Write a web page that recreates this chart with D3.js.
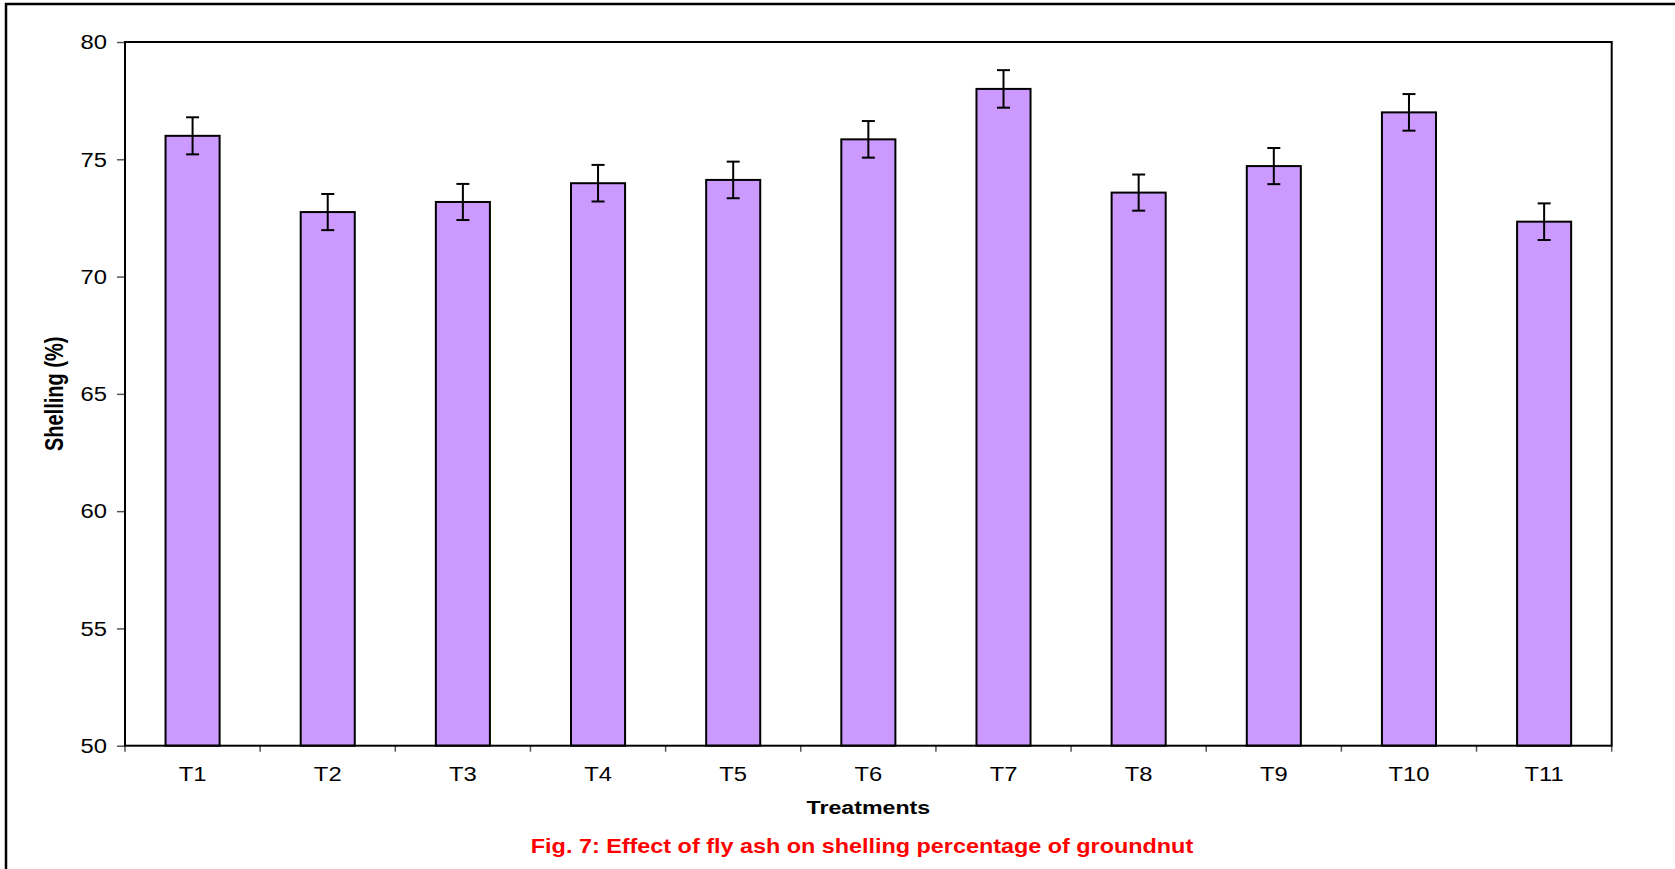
<!DOCTYPE html>
<html>
<head>
<meta charset="utf-8">
<script src="https://cdn.jsdelivr.net/npm/d3@7/dist/d3.min.js"></script>
<style>
  html, body { margin: 0; padding: 0; background: #fff; }
  svg { display: block; }
  text { font-family: "Liberation Sans", Arial, sans-serif; fill: #000; }
</style>
</head>
<body>
<svg id="chart" width="1675" height="869"></svg>
<script>
const categories = ["T1","T2","T3","T4","T5","T6","T7","T8","T9","T10","T11"];
const shelling   = [76.0, 72.75, 73.18, 73.98, 74.12, 75.85, 78.0, 73.58, 74.71, 77.0, 72.34];
const errors     = [0.79, 0.77, 0.77, 0.78, 0.78, 0.78, 0.8, 0.77, 0.77, 0.78, 0.78];
const yTicks     = [50, 55, 60, 65, 70, 75, 80];
const yDomain    = [50, 80];
const xTitle = "Treatments";
const yTitle = "Shelling (%)";
const caption = "Fig. 7: Effect of fly ash on shelling percentage of groundnut";

const W = 1675, H = 869;
const plot = { left: 125, right: 1611.7, top: 42, bottom: 745.7 };
const stretch = 1.22;
const fs = 19.5;

const svg = d3.select("#chart");

// outer frame (only top and left visible)
svg.append("rect")
  .attr("x", 6).attr("y", 4).attr("width", W + 50).attr("height", H + 50)
  .attr("fill", "none").attr("stroke", "#000").attr("stroke-width", 2.5);

const x = d3.scaleBand().domain(categories)
  .range([plot.left, plot.right]).paddingInner(0.6).paddingOuter(0.3);
const y = d3.scaleLinear().domain(yDomain).range([plot.bottom, plot.top]);

// y axis
const yAxis = svg.append("g")
  .attr("transform", `translate(${plot.left},0)`)
  .call(d3.axisLeft(y).tickValues(yTicks).tickSize(8).tickPadding(10).tickFormat(d3.format("d")));
yAxis.select(".domain").remove();
yAxis.selectAll(".tick line").attr("stroke", "#555").attr("stroke-width", 1.5);
yAxis.selectAll(".tick text").each(function() {
  const t = d3.select(this);
  const xx = +t.attr("x");
  t.attr("x", null).attr("dy", null)
   .attr("dominant-baseline", "central")
   .attr("transform", `translate(${xx},0) scale(${stretch},1)`)
   .style("font-size", fs + "px").style("font-family", '"Liberation Sans", Arial, sans-serif');
});

// x ticks at category boundaries
const step = x.step();
const boundaries = categories.map(c => x(c) - (step - x.bandwidth()) / 2).concat([plot.right]);
svg.append("g").selectAll("line").data(boundaries).join("line")
  .attr("x1", d => d).attr("x2", d => d)
  .attr("y1", plot.bottom).attr("y2", plot.bottom + 6)
  .attr("stroke", "#555").attr("stroke-width", 1.5);

// x tick labels
svg.append("g").selectAll("text").data(categories).join("text")
  .attr("transform", d => `translate(${x(d) + x.bandwidth() / 2},${781}) scale(${stretch},1)`)
  .attr("text-anchor", "middle")
  .style("font-size", fs + "px")
  .text(d => d);

// bars
svg.append("g").selectAll("rect").data(categories).join("rect")
  .attr("x", d => x(d))
  .attr("y", (d, i) => y(shelling[i]))
  .attr("width", x.bandwidth())
  .attr("height", (d, i) => y(yDomain[0]) - y(shelling[i]))
  .attr("fill", "#cc99ff")
  .attr("stroke", "#000")
  .attr("stroke-width", 2);

// error bars
const eb = svg.append("g").selectAll("g").data(categories).join("g");
eb.append("line")
  .attr("x1", d => x(d) + x.bandwidth() / 2).attr("x2", d => x(d) + x.bandwidth() / 2)
  .attr("y1", (d, i) => y(shelling[i] + errors[i]))
  .attr("y2", (d, i) => y(shelling[i] - errors[i]))
  .attr("stroke", "#000").attr("stroke-width", 2);
[1, -1].forEach(s => {
  eb.append("line")
    .attr("x1", d => x(d) + x.bandwidth() / 2 - 6.5).attr("x2", d => x(d) + x.bandwidth() / 2 + 6.5)
    .attr("y1", (d, i) => y(shelling[i] + s * errors[i]))
    .attr("y2", (d, i) => y(shelling[i] + s * errors[i]))
    .attr("stroke", "#000").attr("stroke-width", 2);
});

// plot frame
svg.append("rect")
  .attr("x", plot.left).attr("y", plot.top)
  .attr("width", plot.right - plot.left).attr("height", plot.bottom - plot.top)
  .attr("fill", "none").attr("stroke", "#000").attr("stroke-width", 2);

// axis titles
svg.append("text")
  .attr("transform", `translate(${(plot.left + plot.right) / 2},${814}) scale(1.22,1)`)
  .attr("text-anchor", "middle")
  .style("font-size", "19px").style("font-weight", "bold")
  .text(xTitle);

svg.append("text")
  .attr("transform", `translate(${63},${(plot.top + plot.bottom) / 2}) scale(1.25,1) rotate(-90)`)
  .attr("text-anchor", "middle")
  .style("font-size", "20px").style("font-weight", "bold")
  .text(yTitle);

// caption
svg.append("text")
  .attr("transform", `translate(${862},${852.5}) scale(1.2,1)`)
  .attr("text-anchor", "middle")
  .style("font-size", "19.5px").style("font-weight", "bold")
  .style("fill", "#ff0000")
  .text(caption);
</script>
</body>
</html>
